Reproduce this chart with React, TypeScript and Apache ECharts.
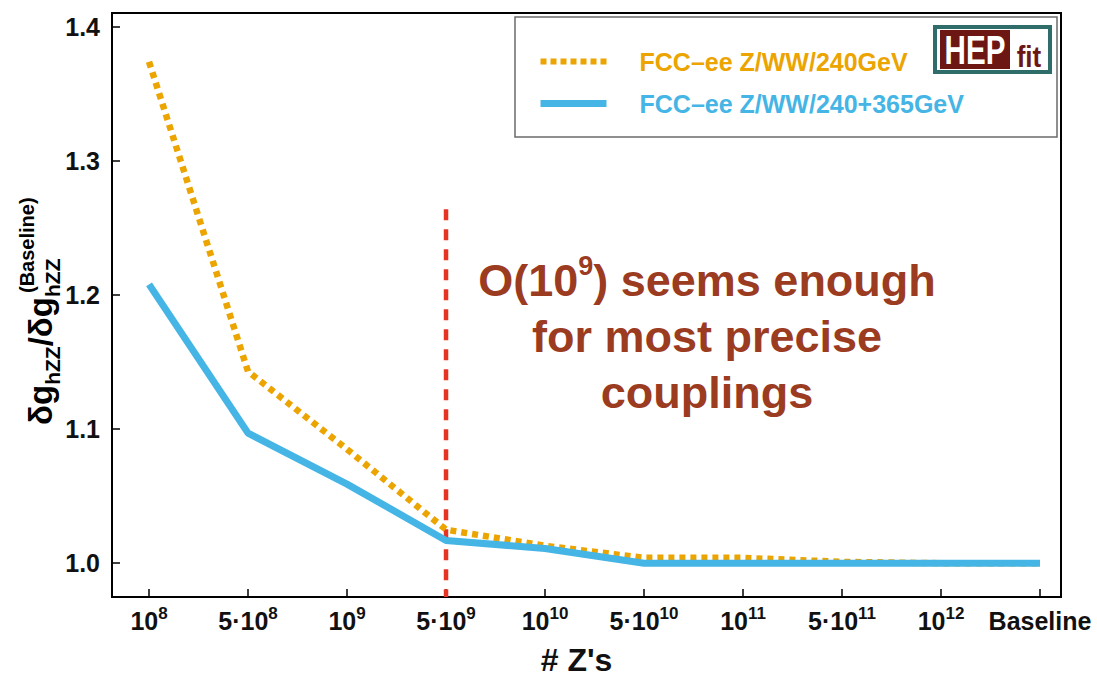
import React, { useEffect, useRef } from 'react';
import * as echarts from 'echarts';

const FF = "'Liberation Sans', Arial, Helvetica, sans-serif";

// X categories (position index, label base, superscript exponent)
const xPositions = [0, 1, 2, 3, 4, 5, 6, 7, 8, 9];
const xLabelBase = ['10', '5·10', '10', '5·10', '10', '5·10', '10', '5·10', '10', 'Baseline'];
const xLabelExp = ['8', '8', '9', '9', '10', '10', '11', '11', '12', ''];

// Y ticks
const yTicks = [1.0, 1.1, 1.2, 1.3, 1.4];

// Series values
const legendNames = ['FCC–ee Z/WW/240GeV', 'FCC–ee Z/WW/240+365GeV'];
const values240 = [1.374, 1.143, 1.085, 1.025, 1.013, 1.004, 1.004, 1.001, 1.0, 1.0];
const values365 = [1.208, 1.097, 1.059, 1.017, 1.011, 1.0, 1.0, 1.0, 1.0, 1.0];

// Vertical cut line (at 5·10^9)
const cutX = [3, 3];
const cutY = [1.264, 0.9748];

// Annotation text
const noteLine1 = ['O(10', '9', ') seems enough'];
const noteLine2 = 'for most precise';
const noteLine3 = 'couplings';

const ORANGE = '#eba400';
const BLUE = '#45b5e5';
const RED = '#e63422';
const BROWN = '#9b3b1f';

function measure(text: string, size: number): number {
  const c = document.createElement('canvas');
  const ctx = c.getContext('2d');
  if (!ctx) return text.length * size * 0.6;
  ctx.font = `bold ${size}px "Liberation Sans", Arial, sans-serif`;
  return ctx.measureText(text).width;
}

export default function App() {
  const ref = useRef<HTMLDivElement>(null);

  useEffect(() => {
    document.body.style.margin = '0';
    document.body.style.overflow = 'hidden';
    document.documentElement.style.overflow = 'hidden';
    if (!ref.current) return;
    const chart = echarts.init(ref.current, undefined, { renderer: 'svg' });

    const mainFs = 33;
    const subFs = 21;
    const supFs = 20;
    const w1 = measure('δg', mainFs);
    const w2 = measure('hZZ', subFs);
    const w3 = measure('/δg', mainFs);
    const mainY = -0.35 * mainFs;
    const subY = 8 - 0.35 * subFs;
    const supY = -18 - 0.35 * supFs;
    const tStyle = (text: string, fs: number) => ({
      text,
      fontSize: fs,
      fontWeight: 'bold',
      fontFamily: FF,
      fill: '#000',
      align: 'left',
      verticalAlign: 'middle',
    });

    const option: any = {
      animation: false,
      grid: {
        left: 112,
        top: 13,
        right: 36,
        bottom: 81,
        show: true,
        borderColor: '#000',
        borderWidth: 2,
      },
      xAxis: {
        type: 'value',
        min: -0.374,
        max: 9.212,
        splitLine: { show: false },
        axisLine: { show: true, onZero: false, lineStyle: { color: '#000', width: 2 } },
        axisTick: {
          show: true,
          inside: true,
          length: 8,
          customValues: xPositions,
          lineStyle: { color: '#000', width: 1.5 },
        },
        axisLabel: {
          customValues: xPositions,
          margin: 8,
          formatter: (v: number) => {
            const i = Math.round(v);
            const e = xLabelExp[i];
            return e ? `{b|${xLabelBase[i]}}{s|${e}}` : `{b|${xLabelBase[i]}}`;
          },
          rich: {
            b: { fontSize: 25, fontWeight: 'bold', fontFamily: FF, color: '#111', lineHeight: 32 },
            s: {
              fontSize: 17,
              fontWeight: 'bold',
              fontFamily: FF,
              color: '#111',
              lineHeight: 19,
              verticalAlign: 'top',
            },
          },
        },
        name: "# Z's",
        nameLocation: 'middle',
        nameGap: 47,
        nameTextStyle: {
          fontSize: 32,
          fontWeight: 'bold',
          fontFamily: FF,
          color: '#111',
          padding: [0, 20, 0, 0],
        },
      },
      yAxis: {
        type: 'value',
        min: 0.9748,
        max: 1.4104,
        splitLine: { show: false },
        axisLine: { show: true, onZero: false, lineStyle: { color: '#000', width: 2 } },
        axisTick: {
          show: true,
          inside: true,
          length: 8,
          customValues: yTicks,
          lineStyle: { color: '#000', width: 1.5 },
        },
        axisLabel: {
          customValues: yTicks,
          margin: 12,
          formatter: (v: number) => v.toFixed(1),
          fontSize: 25,
          fontWeight: 'bold',
          fontFamily: FF,
          color: '#111',
        },
      },
      legend: {
        left: 537,
        top: 49,
        padding: 0,
        orient: 'vertical',
        itemWidth: 66,
        itemHeight: 24,
        itemGap: 17,
        selectedMode: false,
        itemStyle: { opacity: 0 },
        textStyle: {
          fontSize: 25,
          fontWeight: 'bold',
          fontFamily: FF,
          padding: [0, 0, 0, 28],
        },
        data: [
          {
            name: legendNames[0],
            textStyle: { color: ORANGE },
            lineStyle: { color: ORANGE, width: 6, type: [6, 4] },
            itemStyle: { opacity: 0 },
          },
          {
            name: legendNames[1],
            textStyle: { color: BLUE },
            lineStyle: { color: BLUE, width: 7, type: 'solid' },
            itemStyle: { opacity: 0 },
          },
        ],
      },
      series: [
        {
          type: 'line',
          name: 'cut',
          data: cutX.map((x, i) => [x, cutY[i]]),
          symbol: 'none',
          silent: true,
          lineStyle: { color: RED, width: 4.5, type: [11, 9] },
          z: 1,
        },
        {
          type: 'line',
          name: legendNames[0],
          data: xPositions.map((x, i) => [x, values240[i]]),
          symbol: 'none',
          lineStyle: { color: ORANGE, width: 6.5, type: [6, 5] },
          itemStyle: { color: ORANGE },
          z: 2,
        },
        {
          type: 'line',
          name: legendNames[1],
          data: xPositions.map((x, i) => [x, values365[i]]),
          symbol: 'none',
          lineStyle: { color: BLUE, width: 7 },
          itemStyle: { color: BLUE },
          z: 3,
        },
      ],
      graphic: [
        {
          type: 'rect',
          shape: { x: 515, y: 17, width: 542, height: 120 },
          style: { fill: null, stroke: '#6b6b6b', lineWidth: 1.5 },
          silent: true,
        },
        // HEPfit logo
        {
          type: 'group',
          silent: true,
          children: [
            { type: 'rect', shape: { x: 933, y: 25, width: 119, height: 49 }, style: { fill: '#2e6d69' } },
            { type: 'rect', shape: { x: 937, y: 29, width: 111, height: 41 }, style: { fill: '#ffffff' } },
            { type: 'rect', shape: { x: 940, y: 30, width: 70, height: 39 }, style: { fill: '#6d1714' } },
            {
              type: 'text',
              x: 975,
              y: 50,
              scaleX: 0.74,
              style: {
                text: 'HEP',
                fontSize: 40,
                fontWeight: 'bold',
                fontFamily: FF,
                fill: '#ffffff',
                align: 'center',
                verticalAlign: 'middle',
              },
            },
            {
              type: 'text',
              x: 1029,
              y: 57,
              scaleX: 0.9,
              style: {
                text: 'fit',
                fontSize: 29,
                fontWeight: 'bold',
                fontFamily: FF,
                fill: '#6d1714',
                align: 'center',
                verticalAlign: 'middle',
              },
            },
          ],
        },
        // annotation
        {
          type: 'text',
          x: 707,
          y: 280,
          silent: true,
          style: {
            text: `{b|${noteLine1[0]}}{s|${noteLine1[1]}}{b|${noteLine1[2]}}`,
            align: 'center',
            verticalAlign: 'middle',
            rich: {
              b: { fontSize: 45, fontWeight: 'bold', fontFamily: FF, fill: BROWN, lineHeight: 56 },
              s: { fontSize: 27, fontWeight: 'bold', fontFamily: FF, fill: BROWN, lineHeight: 46, verticalAlign: 'top' },
            },
          },
        },
        {
          type: 'text',
          x: 707,
          y: 336,
          silent: true,
          style: {
            text: noteLine2,
            fontSize: 45,
            fontWeight: 'bold',
            fontFamily: FF,
            fill: BROWN,
            align: 'center',
            verticalAlign: 'middle',
          },
        },
        {
          type: 'text',
          x: 707,
          y: 392,
          silent: true,
          style: {
            text: noteLine3,
            fontSize: 45,
            fontWeight: 'bold',
            fontFamily: FF,
            fill: BROWN,
            align: 'center',
            verticalAlign: 'middle',
          },
        },
        // y-axis title (rotated)
        {
          type: 'group',
          x: 52,
          y: 425,
          rotation: Math.PI / 2,
          silent: true,
          children: [
            { type: 'text', x: 0, y: mainY, style: tStyle('δg', mainFs) },
            { type: 'text', x: w1, y: subY, style: tStyle('hZZ', subFs) },
            { type: 'text', x: w1 + w2, y: mainY, style: tStyle('/δg', mainFs) },
            { type: 'text', x: w1 + w2 + w3, y: subY, style: tStyle('hZZ', subFs) },
            { type: 'text', x: w1 + w2 + w3 + 4, y: supY, style: tStyle('(Baseline)', supFs) },
          ],
        },
      ],
    };

    chart.setOption(option);
    return () => chart.dispose();
  }, []);

  return <div ref={ref} style={{ width: 1097, height: 681 }} />;
}
